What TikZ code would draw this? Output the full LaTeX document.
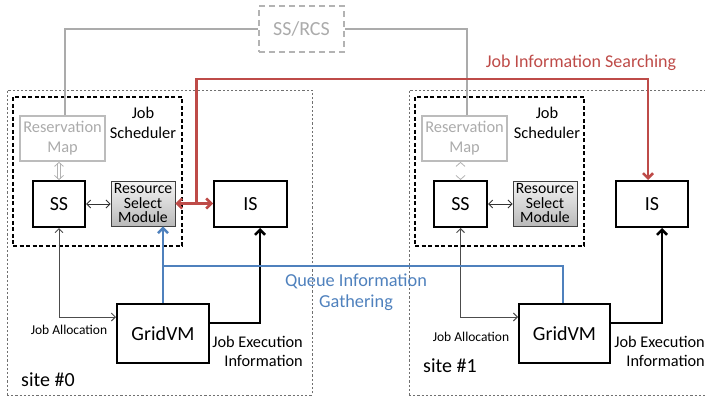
\documentclass[tikz,border=0pt]{standalone}
\usepackage{fontspec}
\setmainfont{Carlito}
\usetikzlibrary{arrows.meta,calc}

\definecolor{offred}{HTML}{BE4B48}
\definecolor{offblue}{HTML}{4F81BD}
\definecolor{lgray}{HTML}{ABABAB}
\definecolor{mgray}{HTML}{707070}

\tikzset{
  blk/.style={draw=black, line width=2pt, fill=white, inner sep=0pt,
    font=\fontsize{20}{22}\selectfont},
  rsmbox/.style={draw=black!75, line width=0.9pt, inner sep=0pt,
    top color=gray!8, bottom color=gray!55, align=center,
    font=\fontsize{15.7}{14.5}\selectfont},
  resmap/.style={draw=lgray!80, line width=1.8pt, inner sep=0pt, align=center,
    text=lgray, font=\fontsize{16.4}{20}\selectfont},
  sitebox/.style={draw=mgray, line width=0.9pt, dash pattern=on 2.2pt off 2pt},
  schedbox/.style={draw=black, line width=1.5pt, dash pattern=on 4pt off 2.5pt},
  graylink/.style={draw=lgray, line width=1.5pt},
  thinarr/.style={draw=black!80, line width=0.9pt,
    {Straight Barb[length=4pt,width=8pt]}-{Straight Barb[length=4pt,width=8pt]}},
  allocarr/.style={draw=black!70, line width=0.9pt,
    {Straight Barb[length=4pt,width=8pt]}-{Straight Barb[length=4pt,width=8pt]}},
  rmarr/.style={draw=lgray!90, line width=0.8pt, double=white, double distance=2.2pt,
    {Straight Barb[length=4pt,width=9pt]}-{Straight Barb[length=4pt,width=9pt]}},
  redline/.style={draw=offred, line width=2.5pt},
  blueline/.style={draw=offblue, line width=2.5pt},
  execarr/.style={draw=black, line width=2.5pt, -{Straight Barb[length=5pt,width=10pt]}},
  lbl/.style={inner sep=0pt, align=center},
}

\begin{document}
\begin{tikzpicture}[x=1pt,y=-1pt]
\clip (0,0) rectangle (705,396);
\useasboundingbox (0,0) rectangle (705,396);

% central SS/RCS
\node[draw=lgray!90, line width=2pt, dash pattern=on 6pt off 4pt, inner sep=0pt,
  minimum width=85pt, minimum height=46pt, text=lgray,
  font=\fontsize{20}{22}\selectfont] (rcs) at (301.5,29) {SS/RCS};

% site frames
\node[sitebox, minimum width=305pt, minimum height=305pt, inner sep=0pt] (site0) at (159.5,242.5) {};
\node[sitebox, minimum width=305pt, minimum height=305pt, inner sep=0pt] (site1) at (561.5,242.5) {};

% job scheduler frames
\node[schedbox, minimum width=169pt, minimum height=149pt, inner sep=0pt] (js0) at (97.5,171.5) {};
\node[schedbox, minimum width=169pt, minimum height=149pt, inner sep=0pt] (js1) at (499.5,171.5) {};
\node[lbl, font=\fontsize{16.4}{20}\selectfont] (jst0) at (143,123) {Job\\Scheduler};
\node[lbl, font=\fontsize{16.4}{20}\selectfont] (jst1) at (547,123) {Job\\Scheduler};

% reservation maps
\node[resmap, minimum width=85pt, minimum height=45pt] (rm0) at (62.5,138.5) {Reservation\\Map};
\node[resmap, minimum width=85pt, minimum height=45pt] (rm1) at (464.5,138.5) {Reservation\\Map};

% scheduler services, resource select modules, information services
\node[blk, minimum width=52pt, minimum height=46pt] (ss0) at (59,204) {SS};
\node[blk, minimum width=53pt, minimum height=46pt] (ss1) at (460.5,204) {SS};
\node[rsmbox, minimum width=64pt, minimum height=45pt] (rsm0) at (143,203.5) {Resource\\Select\\Module};
\node[rsmbox, minimum width=64pt, minimum height=45pt] (rsm1) at (545,203.5) {Resource\\Select\\Module};
\node[blk, minimum width=73pt, minimum height=46pt] (is0) at (250.5,204) {IS};
\node[blk, minimum width=72pt, minimum height=46pt] (is1) at (652,204) {IS};

% grid virtual machines
\node[blk, minimum width=92pt, minimum height=59pt] (gv0) at (163,333.5) {GridVM};
\node[blk, minimum width=91pt, minimum height=59pt] (gv1) at (564.5,333.5) {GridVM};

% links to SS/RCS
\draw[graylink] (rcs.west) -| ([xshift=2.5pt]rm0.north);
\draw[graylink] (rcs.east) -| ([xshift=2.5pt]rm1.north);

% reservation map <-> SS
\draw[rmarr] (rm0.south -| ss0.north) -- (ss0.north);
\draw[rmarr] (rm1.south -| ss1.north) -- (ss1.north);

% SS <-> resource select module
\draw[thinarr] (ss0.east) -- (ss0.east -| rsm0.west);
\draw[thinarr] (ss1.east) -- (ss1.east -| rsm1.west);

% job allocation
\draw[allocarr] (ss0.south) |- ([yshift=16.5pt]gv0.west);
\draw[allocarr] (ss1.south) |- ([yshift=16.5pt]gv1.west);
\node[lbl, font=\fontsize{13.5}{15}\selectfont] (ja0) at (69,330) {Job Allocation};
\node[lbl, font=\fontsize{13.5}{15}\selectfont] (ja1) at (471,337) {Job Allocation};

% job execution information
\draw[execarr] ([yshift=10.5pt]gv0.east) -| ([xshift=9.5pt]is0.south);
\draw[execarr] ([yshift=10.5pt]gv1.east) -| ([xshift=10pt]is1.south);
\node[inner sep=0pt, align=right, anchor=east, font=\fontsize{16.3}{19}\selectfont] (je0) at (303,351.5) {Job Execution\\Information};
\node[inner sep=0pt, align=right, anchor=east, font=\fontsize{16.3}{19}\selectfont] (je1) at (705,351.5) {Job Execution\\Information};

% job information searching
\coordinate (rj) at ($(rsm0.east)!0.56!(is0.west)$);
\draw[redline, {Straight Barb[length=5pt,width=10pt]}-{Straight Barb[length=5pt,width=10pt]}]
  (rsm0.east) -- (rsm0.east -| is0.west);
\draw[redline, -{Straight Barb[length=5pt,width=10pt]}]
  (rj) -- ++(0,-125) -| ([xshift=-4pt]is1.north);
\node[lbl, text=offred, font=\fontsize{18}{20}\selectfont] (jis) at (581,63) {Job Information Searching};

% queue information gathering
\coordinate (bj) at ($(gv0.north)+(0,-37)$);
\draw[blueline, -{Straight Barb[length=5pt,width=10pt]}]
  (gv0.north) -- (gv0.north |- rsm0.south);
\draw[blueline] (bj) -| ([xshift=-1.5pt]gv1.north);
\node[lbl, text=offblue, font=\fontsize{18.3}{21}\selectfont] (qig) at (356,292.5) {Queue Information\\Gathering};

% site labels
\node[inner sep=0pt, anchor=west, font=\fontsize{20}{22}\selectfont] (sl0) at (21,380) {site \#0};
\node[inner sep=0pt, anchor=west, font=\fontsize{20}{22}\selectfont] (sl1) at (423,366) {site \#1};
\end{tikzpicture}
\end{document}
